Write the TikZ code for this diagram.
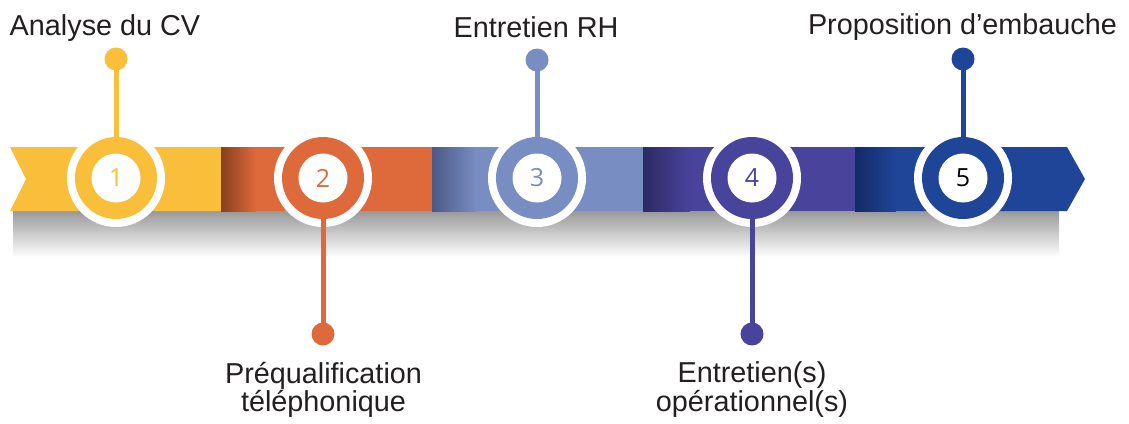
\documentclass[tikz,border=0pt]{standalone}
\usepackage{fontspec}
\setmainfont{Liberation Sans}
\newfontfamily\numfont{Open Sans}
\definecolor{cyel}{HTML}{F9BF3B}
\definecolor{cora}{HTML}{DE6A3B}
\definecolor{clbl}{HTML}{788DC2}
\definecolor{cpur}{HTML}{48449B}
\definecolor{cblu}{HTML}{1F4598}
\definecolor{dora}{HTML}{86401F}
\definecolor{dlbl}{HTML}{4A5987}
\definecolor{dpur}{HTML}{2C2A64}
\definecolor{dblu}{HTML}{142A64}
\definecolor{ctxt}{HTML}{231F20}
\begin{document}
\begin{tikzpicture}[x=1pt,y=-1pt,
  ring/.style={circle,fill=white,minimum size=98pt,inner sep=0pt},
  disk/.style={circle,fill=#1,minimum size=82pt,inner sep=0pt},
  hole/.style={circle,fill=white,minimum size=49pt,inner sep=0pt,text=#1,font=\numfont\fontsize{25}{25}\selectfont},
  dot/.style={circle,fill=#1,minimum size=23pt,inner sep=0pt},
  stem/.style={draw=#1,line width=5pt},
  lbl/.style={anchor=base,text=ctxt,inner sep=0pt,align=center,font=\fontsize{28.8}{24.5}\selectfont}]
\useasboundingbox (0,0) rectangle (1129,423);
% shadow
\shade[top color=black!40,bottom color=white] (13,211) rectangle (1059,257);
% band segments
\fill[cyel] (10,147) -- (221.5,147) -- (221.5,211) -- (10,211) -- (26,179) -- cycle;
\fill[cora] (221,147) rectangle (432.5,211);
\shade[left color=dora,right color=cora] (221,147) rectangle (256,211);
\fill[clbl] (432,147) rectangle (643.5,211);
\shade[left color=dlbl,right color=clbl] (432,147) rectangle (476,211);
\fill[cpur] (643,147) rectangle (855.5,211);
\shade[left color=dpur,right color=cpur] (643,147) rectangle (690,211);
\fill[cblu] (855,147) -- (1067,147) -- (1085,179) -- (1067,211) -- (855,211) -- cycle;
\shade[left color=dblu,right color=cblu] (855,147) rectangle (896,211);
% steps
\foreach \i/\x/\dy/\c/\t in {1/116/59/cyel/cyel, 2/323/334/cora/cora, 3/537/60/clbl/clbl, 4/752/334/cpur/cpur, 5/963/59/cblu/black}{
  \node[ring] (w\i) at (\x,178) {};
  \node[dot=\c] (d\i) at (\x,\dy) {};
  \draw[stem=\c] (d\i.center) -- (w\i.center);
  \node[disk=\c] (c\i) at (\x,178) {};
  \node[hole=\t] (n\i) at (\x,178) {\i};
}
% labels
\node[lbl] (t1) at (105,35) {Analyse du CV};
\node[lbl] (t3) at (536,37) {Entretien RH};
\node[lbl] (t5) at (962.5,34) {Proposition d’embauche};
\node[lbl] (t2) at (323.5,411.5) {Préqualification\\téléphonique};
\node[lbl,font=\fontsize{28.8}{29}\selectfont] (t4) at (752,411) {Entretien(s)\\opérationnel(s)};
\end{tikzpicture}
\end{document}
